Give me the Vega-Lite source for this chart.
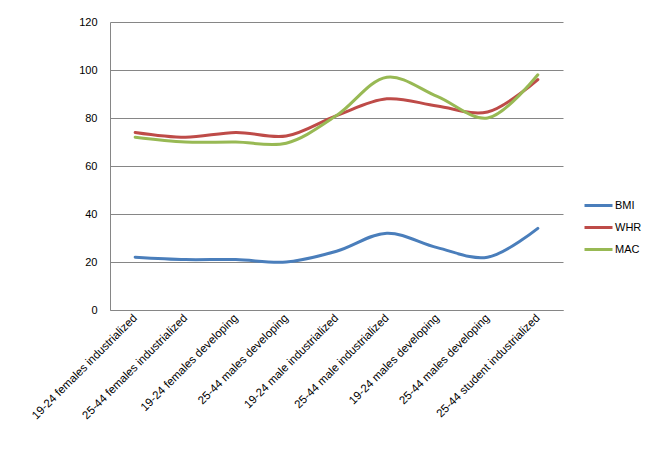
{
  "$schema": "https://vega.github.io/schema/vega-lite/v6.json",
  "width": 453,
  "height": 288,
  "autosize": {"type": "none"},
  "padding": {"left": 110, "top": 22, "right": 95, "bottom": 142},
  "background": "white",
  "config": {
    "view": {"stroke": null},
    "font": "Liberation Sans"
  },
  "data": {
    "values": [
      {"idx": 0, "measure": "BMI", "value": 22},
      {"idx": 1, "measure": "BMI", "value": 21},
      {"idx": 2, "measure": "BMI", "value": 21},
      {"idx": 3, "measure": "BMI", "value": 20},
      {"idx": 4, "measure": "BMI", "value": 24.5},
      {"idx": 5, "measure": "BMI", "value": 32},
      {"idx": 6, "measure": "BMI", "value": 26},
      {"idx": 7, "measure": "BMI", "value": 22},
      {"idx": 8, "measure": "BMI", "value": 34},
      {"idx": 0, "measure": "WHR", "value": 74},
      {"idx": 1, "measure": "WHR", "value": 72},
      {"idx": 2, "measure": "WHR", "value": 74},
      {"idx": 3, "measure": "WHR", "value": 72.5},
      {"idx": 4, "measure": "WHR", "value": 81},
      {"idx": 5, "measure": "WHR", "value": 88},
      {"idx": 6, "measure": "WHR", "value": 85},
      {"idx": 7, "measure": "WHR", "value": 82.5},
      {"idx": 8, "measure": "WHR", "value": 96},
      {"idx": 0, "measure": "MAC", "value": 72},
      {"idx": 1, "measure": "MAC", "value": 70},
      {"idx": 2, "measure": "MAC", "value": 70},
      {"idx": 3, "measure": "MAC", "value": 69.5},
      {"idx": 4, "measure": "MAC", "value": 81},
      {"idx": 5, "measure": "MAC", "value": 97},
      {"idx": 6, "measure": "MAC", "value": 89},
      {"idx": 7, "measure": "MAC", "value": 80},
      {"idx": 8, "measure": "MAC", "value": 98}
    ]
  },
  "mark": {"type": "line", "interpolate": "catmull-rom", "strokeWidth": 3, "strokeCap": "round"},
  "encoding": {
    "x": {
      "field": "idx",
      "type": "ordinal",
      "scale": {"type": "point", "padding": 0.5},
      "axis": {
        "title": null,
        "labelExpr": "['19-24 females industrialized','25-44 females industrialized','19-24 females developing','25-44 males developing','19-24 male industrialized','25-44 male industrialized','19-24 males developing','25-44 males developing','25-44 student industrialized'][datum.value]",
        "labelAngle": -45,
        "labelAlign": "right",
        "labelBaseline": "middle",
        "labelFontSize": 11.5,
        "labelColor": "#000000",
        "labelPadding": 6,
        "ticks": false,
        "domainColor": "#868686",
        "domainWidth": 1,
        "grid": false
      }
    },
    "y": {
      "field": "value",
      "type": "quantitative",
      "scale": {"domain": [0, 120], "nice": false},
      "axis": {
        "title": null,
        "values": [0, 20, 40, 60, 80, 100, 120],
        "labelFontSize": 11,
        "labelColor": "#000000",
        "labelPadding": 13,
        "ticks": false,
        "domainColor": "#868686",
        "gridColor": "#868686",
        "gridWidth": 1
      }
    },
    "color": {
      "field": "measure",
      "type": "nominal",
      "scale": {"domain": ["BMI", "WHR", "MAC"], "range": ["#4A7EBB", "#BE4B48", "#98B954"]},
      "legend": {
        "title": null,
        "orient": "none",
        "legendX": 473,
        "legendY": 168,
        "symbolType": "stroke",
        "symbolStrokeWidth": 3,
        "symbolSize": 784,
        "labelFontSize": 11,
        "labelColor": "#000000",
        "rowPadding": -4,
        "labelOffset": 1
      }
    }
  }
}
